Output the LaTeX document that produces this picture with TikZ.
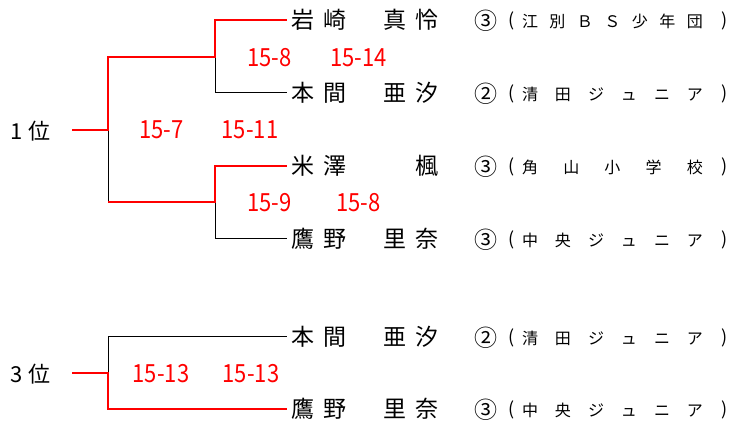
\documentclass[tikz,border=0pt]{standalone}
\usepackage{fontspec}
\newfontfamily\cjk{Noto Sans CJK JP}
\newfontfamily\scorefont[FakeStretch=0.88]{Noto Sans CJK JP}
\newcommand\nm[4]{\makebox[32pt]{#1}\makebox[32pt]{#2}\hspace{28pt}\makebox[32pt]{#3}\makebox[32pt]{#4}}
\tikzset{
  win/.style={draw=red, line width=2pt},
  lose/.style={draw=black, line width=1pt},
  player/.style={anchor=west, inner sep=0pt, font=\cjk\fontsize{23}{23}\selectfont},
  circ/.style={inner sep=0pt, font=\cjk\fontsize{23}{23}\selectfont},
  paren/.style={inner sep=0pt, font=\cjk\fontsize{18}{18}\selectfont},
  school/.style={inner sep=0pt, font=\cjk\fontsize{16}{16}\selectfont},
  score/.style={text=red, inner sep=0pt, font=\scorefont\fontsize{25}{25}\selectfont},
  rank/.style={anchor=east, inner sep=0pt, font=\cjk\fontsize{22}{22}\selectfont}
}
\begin{document}
\begin{tikzpicture}[x=1pt,y=-1pt]
\useasboundingbox (0,0) rectangle (732,422);
% ranks
\node[rank] (r1) at (51,131) {1\hspace{6pt}位};
\node[rank] (r3) at (51,374) {3\hspace{6pt}位};
% players
\node[player] (p1) at (287,20) {\nm{岩}{崎}{真}{怜}};
\node[player] (p2) at (287,93) {\nm{本}{間}{亜}{汐}};
\node[player] (p3) at (287,166) {\nm{米}{澤}{}{楓}};
\node[player] (p4) at (287,239) {\nm{鷹}{野}{里}{奈}};
\node[player] (p5) at (287,337) {\nm{本}{間}{亜}{汐}};
\node[player] (p6) at (287,409) {\nm{鷹}{野}{里}{奈}};
% grades
\node[circ] (g1) at (486,21) {③};
\node[circ] (g2) at (486,94) {②};
\node[circ] (g3) at (486,167) {③};
\node[circ] (g4) at (486,240) {③};
\node[circ] (g5) at (486,338) {②};
\node[circ] (g6) at (486,410) {③};
% parentheses
\foreach \y/\n in {21/1,94/2,167/3,240/4,338/5,410/6}{
  \node[paren] (lp\n) at (512,\y) {(};
  \node[paren] (rp\n) at (725,\y) {)};
}
% schools
\node[school] (s1) at (612.5,21) {\makebox[27.5pt]{江}\makebox[27.5pt]{別}\makebox[27.5pt]{Ｂ}\makebox[27.5pt]{Ｓ}\makebox[27.5pt]{少}\makebox[27.5pt]{年}\makebox[27.5pt]{団}};
\node[school] (s2) at (612.5,94) {\makebox[33pt]{清}\makebox[33pt]{田}\makebox[33pt]{ジ}\makebox[33pt]{ュ}\makebox[33pt]{ニ}\makebox[33pt]{ア}};
\node[school] (s3) at (612.5,167) {\makebox[41.25pt]{角}\makebox[41.25pt]{山}\makebox[41.25pt]{小}\makebox[41.25pt]{学}\makebox[41.25pt]{校}};
\node[school] (s4) at (612.5,240) {\makebox[33pt]{中}\makebox[33pt]{央}\makebox[33pt]{ジ}\makebox[33pt]{ュ}\makebox[33pt]{ニ}\makebox[33pt]{ア}};
\node[school] (s5) at (612.5,338) {\makebox[33pt]{清}\makebox[33pt]{田}\makebox[33pt]{ジ}\makebox[33pt]{ュ}\makebox[33pt]{ニ}\makebox[33pt]{ア}};
\node[school] (s6) at (612.5,410) {\makebox[33pt]{中}\makebox[33pt]{央}\makebox[33pt]{ジ}\makebox[33pt]{ュ}\makebox[33pt]{ニ}\makebox[33pt]{ア}};
% scores
\node[score] (sc1) at (269.5,57.5) {15-8};
\node[score] (sc2) at (358.5,57.5) {15-14};
\node[score] (sc3) at (161.5,129.5) {15-7};
\node[score] (sc4) at (250,129.5) {15-11};
\node[score] (sc5) at (269.5,203) {15-9};
\node[score] (sc6) at (358.5,203) {15-8};
\node[score] (sc7) at (161,374) {15-13};
\node[score] (sc8) at (251,374) {15-13};
% junctions
\coordinate (t1) at (72,130);
\coordinate (j1) at (108,130);
\coordinate (a1) at (108,57);
\coordinate (b1) at (108,202);
\coordinate (ja) at (215,57);
\coordinate (jb) at (215,202);
\coordinate (c1) at (215,20);
\coordinate (c2) at (215,93);
\coordinate (c3) at (215,166);
\coordinate (c4) at (215,239);
\coordinate (t3) at (72,373);
\coordinate (j3) at (108,373);
\coordinate (c5) at (108,337);
\coordinate (c6) at (108,409);
% losing lines
\draw[lose] (ja) -- (c2) -- (p2.west);
\draw[lose] (jb) -- (c4) -- (p4.west);
\draw[lose] (j1) -- (b1);
\draw[lose] (j3) -- (c5) -- (p5.west);
% winning lines
\draw[win] (t1) -- (j1) -- (a1) -- (ja) -- (c1) -- (p1.west);
\draw[win] (b1) -- (jb) -- (c3) -- (p3.west);
\draw[win] (t3) -- (j3) -- (c6) -- (p6.west);
\end{tikzpicture}
\end{document}
